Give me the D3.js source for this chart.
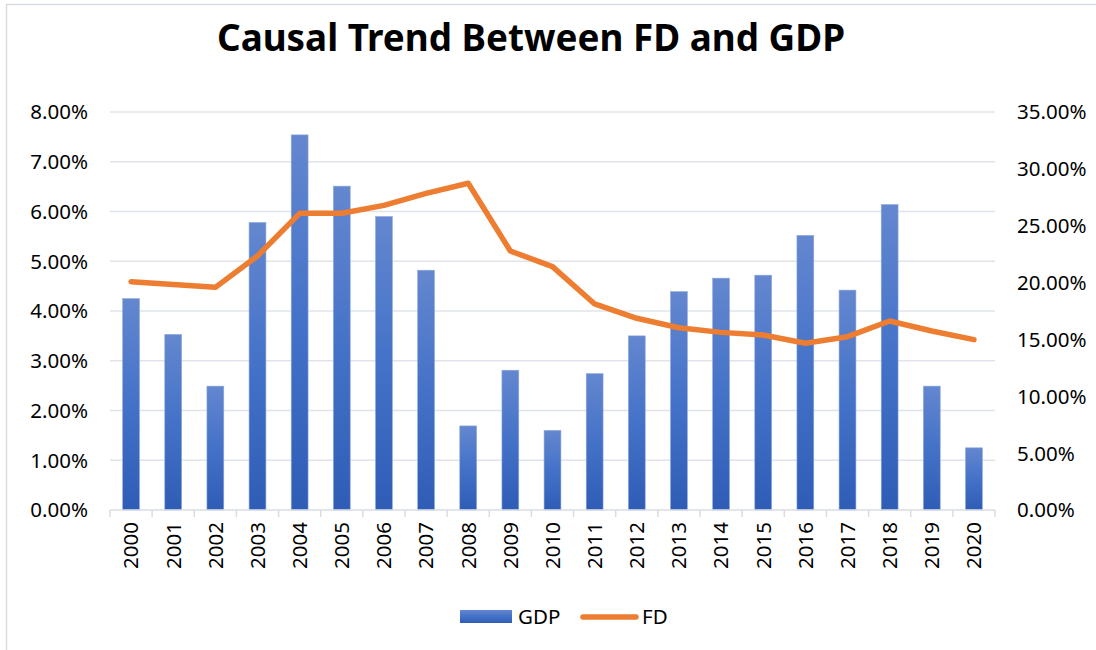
<!DOCTYPE html>
<html>
<head>
<meta charset="utf-8">
<script src="https://cdn.jsdelivr.net/npm/d3@7"></script>
<style>
  body { margin: 0; background: #fff; }
  text { font-family: "Noto Sans", "Open Sans", sans-serif; fill: #000; }
</style>
</head>
<body>
<div id="chart"></div>
<script>
// data
const years = ['2000','2001','2002','2003','2004','2005','2006','2007','2008','2009','2010',
               '2011','2012','2013','2014','2015','2016','2017','2018','2019','2020'];
const gdp = [4.25, 3.53, 2.49, 5.78, 7.54, 6.51, 5.90, 4.82, 1.69, 2.81, 1.60,
             2.74, 3.50, 4.39, 4.66, 4.72, 5.52, 4.42, 6.14, 2.49, 1.25];
const fd = [20.08, 19.82, 19.58, 22.34, 26.09, 26.09, 26.79, 27.85, 28.73, 22.78, 21.40,
            18.12, 16.86, 16.03, 15.62, 15.39, 14.66, 15.24, 16.62, 15.74, 14.98];
const leftTicks = [0, 1, 2, 3, 4, 5, 6, 7, 8];
const rightTicks = [0, 5, 10, 15, 20, 25, 30, 35];

const W = 1096, H = 650;
const margin = { top: 112, left: 110, right: 101, bottom: 140 };
const width = W - margin.left - margin.right;
const height = H - margin.top - margin.bottom;

const svg = d3.select('#chart')
    .append('svg')
    .attr('width', W)
    .attr('height', H);

// chart border (only top/left visible in the picture)
svg.append('rect')
    .attr('x', 6.5).attr('y', 4.5)
    .attr('width', W + 20).attr('height', H + 20)
    .attr('fill', 'none')
    .attr('stroke', '#d9dde3')
    .attr('stroke-width', 1.5);

const defs = svg.append('defs');
const grad = defs.append('linearGradient')
    .attr('id', 'barGrad')
    .attr('x1', 0).attr('y1', 0).attr('x2', 0).attr('y2', 1);
grad.append('stop').attr('offset', '0%').attr('stop-color', '#6487cf');
grad.append('stop').attr('offset', '50%').attr('stop-color', '#4472c8');
grad.append('stop').attr('offset', '100%').attr('stop-color', '#2f5db6');

const g = svg.append('g')
    .attr('transform', `translate(${margin.left},${margin.top})`);

const x = d3.scaleBand()
    .domain(years)
    .range([0, width])
    .paddingInner(0.6)
    .paddingOuter(0.3);

const xb = d3.scaleBand().domain(years).range([0, width]);

const yL = d3.scaleLinear().domain([0, 8]).range([height, 0]);
const yR = d3.scaleLinear().domain([0, 35]).range([height, 0]);

// gridlines
g.selectAll('.grid')
    .data(leftTicks.slice(1))
    .enter()
    .append('line')
    .attr('x1', 0).attr('x2', width)
    .attr('y1', d => yL(d)).attr('y2', d => yL(d))
    .attr('stroke', '#e0e4ea')
    .attr('stroke-width', 1.5);

// left axis labels
g.selectAll('.ltick')
    .data(leftTicks)
    .enter()
    .append('text')
    .attr('x', -22)
    .attr('y', d => yL(d))
    .attr('dy', '0.36em')
    .attr('text-anchor', 'end')
    .style('font-size', '20.5px')
    .text(d => d.toFixed(2) + '%');

// right axis labels
g.selectAll('.rtick')
    .data(rightTicks)
    .enter()
    .append('text')
    .attr('x', width + 22)
    .attr('y', d => yR(d))
    .attr('dy', '0.36em')
    .attr('text-anchor', 'start')
    .style('font-size', '20.5px')
    .text(d => d.toFixed(2) + '%');

// bars
g.selectAll('.bar')
    .data(gdp)
    .enter()
    .append('rect')
    .attr('class', 'bar')
    .attr('x', (d, i) => x(years[i]))
    .attr('y', d => yL(d))
    .attr('width', x.bandwidth())
    .attr('height', d => height - yL(d))
    .attr('fill', 'url(#barGrad)')
    .attr('stroke', '#8eaadc')
    .attr('stroke-width', 0.6);

// x axis line and ticks
const xAxis = g.append('g')
    .attr('transform', `translate(0,${height})`);
xAxis.append('line')
    .attr('x1', 0).attr('x2', width)
    .attr('stroke', '#d9dde3').attr('stroke-width', 1.5);
xAxis.selectAll('.tk')
    .data(years.concat(['end']))
    .enter()
    .append('line')
    .attr('x1', (d, i) => i * xb.bandwidth())
    .attr('x2', (d, i) => i * xb.bandwidth())
    .attr('y1', 0).attr('y2', 7)
    .attr('stroke', '#d9dde3').attr('stroke-width', 1.5);
xAxis.selectAll('.xl')
    .data(years)
    .enter()
    .append('text')
    .attr('transform', d => `translate(${xb(d) + xb.bandwidth() / 2},12) rotate(-90)`)
    .attr('dy', '0.36em')
    .attr('text-anchor', 'end')
    .style('font-size', '20.5px')
    .text(d => d);

// FD line
const line = d3.line()
    .x((d, i) => xb(years[i]) + xb.bandwidth() / 2)
    .y(d => yR(d));

g.append('path')
    .datum(fd)
    .attr('d', line)
    .attr('fill', 'none')
    .attr('stroke', '#ed7d31')
    .attr('stroke-width', 5.5)
    .attr('stroke-linejoin', 'round')
    .attr('stroke-linecap', 'round');

// title
svg.append('text')
    .attr('x', 531)
    .attr('y', 51)
    .attr('text-anchor', 'middle')
    .attr('textLength', 628)
    .attr('lengthAdjust', 'spacingAndGlyphs')
    .style('font-size', '38px')
    .style('font-weight', 'bold')
    .text('Causal Trend Between FD and GDP');

// legend
const lg = svg.append('g');
lg.append('rect')
    .attr('x', 460).attr('y', 610)
    .attr('width', 52).attr('height', 13)
    .attr('fill', 'url(#barGrad)');
lg.append('text')
    .attr('x', 518).attr('y', 617)
    .attr('dy', '0.36em')
    .style('font-size', '20.5px')
    .text('GDP');
lg.append('line')
    .attr('x1', 583).attr('x2', 636)
    .attr('y1', 617).attr('y2', 617)
    .attr('stroke', '#ed7d31')
    .attr('stroke-width', 5.5)
    .attr('stroke-linecap', 'round');
lg.append('text')
    .attr('x', 642).attr('y', 617)
    .attr('dy', '0.36em')
    .style('font-size', '20.5px')
    .text('FD');
</script>
</body>
</html>
